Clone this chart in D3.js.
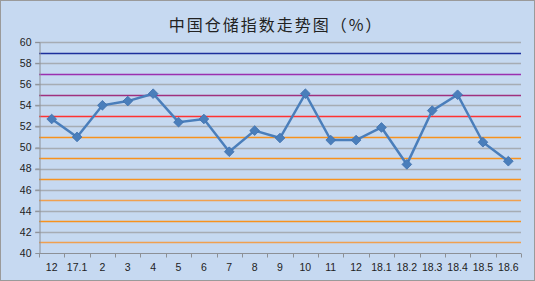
<!DOCTYPE html>
<html>
<head>
<meta charset="utf-8">
<script src="https://cdn.jsdelivr.net/npm/d3@7"></script>
<style>
body { margin: 0; background: #fff; }
svg text { font-family: "Liberation Sans", Arial, sans-serif; }
</style>
</head>
<body>
<script>
// chart data
var categories = ["12", "17.1", "2", "3", "4", "5", "6", "7", "8", "9", "10", "11", "12", "18.1", "18.2", "18.3", "18.4", "18.5", "18.6"];
var values = [52.7, 51.0, 54.0, 54.4, 55.1, 52.4, 52.7, 49.6, 51.6, 50.9, 55.1, 50.7, 50.7, 51.9, 48.4, 53.5, 55.0, 50.5, 48.7];
var yTicks = [40, 42, 44, 46, 48, 50, 52, 54, 56, 58, 60];
var refValues = [59, 57, 55, 53, 51, 49, 47, 45, 43, 41];
var refColors = ["#1c2f9c", "#9b2fb0", "#a0307f", "#ff3333", "#f7921e", "#f7921e", "#f7921e", "#f0a050", "#f7921e", "#f0a050"];

var width = 535;
var height = 281;
var plotLeft = 39, plotRight = 521, plotTop = 42, plotBottom = 253;

var svg = d3.select("body")
            .append("svg")
            .attr("width", width)
            .attr("height", height);

// background + border
svg.append("rect")
   .attr("x", 0.5).attr("y", 0.5)
   .attr("width", width - 1).attr("height", height - 1)
   .attr("fill", "#c6d9f1")
   .attr("stroke", "#9a9a9a");

// title
svg.append("text")
   .attr("x", 276).attr("y", 31)
   .attr("text-anchor", "middle")
   .style("font-family", "'Noto Sans CJK SC', sans-serif")
   .style("font-size", "16px")
   .style("letter-spacing", "2px")
   .attr("fill", "#222")
   .text("中国仓储指数走势图（%）");

//Scales
var x = d3.scaleBand()
          .domain(d3.range(categories.length))
          .range([plotLeft, plotRight]);

var y = d3.scaleLinear()
          .domain([40, 60])
          .range([plotBottom, plotTop]);

// gridlines
svg.append("g")
   .selectAll("line")
   .data(yTicks.slice(1))
   .enter()
   .append("line")
   .attr("x1", plotLeft - 4).attr("x2", plotRight)
   .attr("y1", d => Math.round(y(d)) + 0.5)
   .attr("y2", d => Math.round(y(d)) + 0.5)
   .attr("stroke", "#a6acb4")
   .attr("stroke-width", 1.3);

// reference lines
svg.append("g")
   .selectAll("line")
   .data(refValues)
   .enter()
   .append("line")
   .attr("x1", plotLeft).attr("x2", plotRight)
   .attr("y1", d => Math.round(y(d)) + 0.5)
   .attr("y2", d => Math.round(y(d)) + 0.5)
   .attr("stroke", (d, i) => refColors[i])
   .attr("stroke-width", 1.5);

// y axis
var yAxis = d3.axisLeft(y).tickValues(yTicks).tickSize(4).tickPadding(4);
var gy = svg.append("g")
            .attr("transform", "translate(" + (plotLeft + 0.5) + ",0)")
            .call(yAxis);
gy.selectAll("line").attr("stroke", "#8c9096");
gy.select(".domain").attr("stroke", "#8c9096");
gy.selectAll("text").style("font-size", "10.5px").attr("fill", "#222");

// x axis
var gx = svg.append("g")
            .attr("transform", "translate(0," + (plotBottom + 0.5) + ")");
gx.append("line")
  .attr("x1", plotLeft).attr("x2", plotRight)
  .attr("stroke", "#8c9096");
gx.selectAll(".tk")
  .data(d3.range(categories.length + 1))
  .enter()
  .append("line")
  .attr("class", "tk")
  .attr("x1", d => Math.round(plotLeft + d * x.step()) + 0.5)
  .attr("x2", d => Math.round(plotLeft + d * x.step()) + 0.5)
  .attr("y1", 0).attr("y2", 4)
  .attr("stroke", "#8c9096");
gx.selectAll("text")
  .data(categories)
  .enter()
  .append("text")
  .attr("x", (d, i) => x(i) + x.bandwidth() / 2)
  .attr("y", 17)
  .attr("text-anchor", "middle")
  .style("font-size", "10.5px")
  .attr("fill", "#222")
  .text(d => d);

// series line
var line = d3.line()
             .x((d, i) => x(i) + x.bandwidth() / 2)
             .y(d => y(d));

svg.append("path")
   .datum(values)
   .attr("d", line)
   .attr("fill", "none")
   .attr("stroke", "#4a7ebb")
   .attr("stroke-width", 2.5);

// diamond markers
svg.selectAll(".pt")
   .data(values)
   .enter()
   .append("path")
   .attr("class", "pt")
   .attr("d", d3.symbol().type(d3.symbolDiamond2).size(60))
   .attr("transform", (d, i) => "translate(" + (x(i) + x.bandwidth() / 2) + "," + y(d) + ")")
   .attr("fill", "#4a7ebb")
   .attr("stroke", "#3f70ad")
   .attr("stroke-width", 0.8);
</script>
</body>
</html>
